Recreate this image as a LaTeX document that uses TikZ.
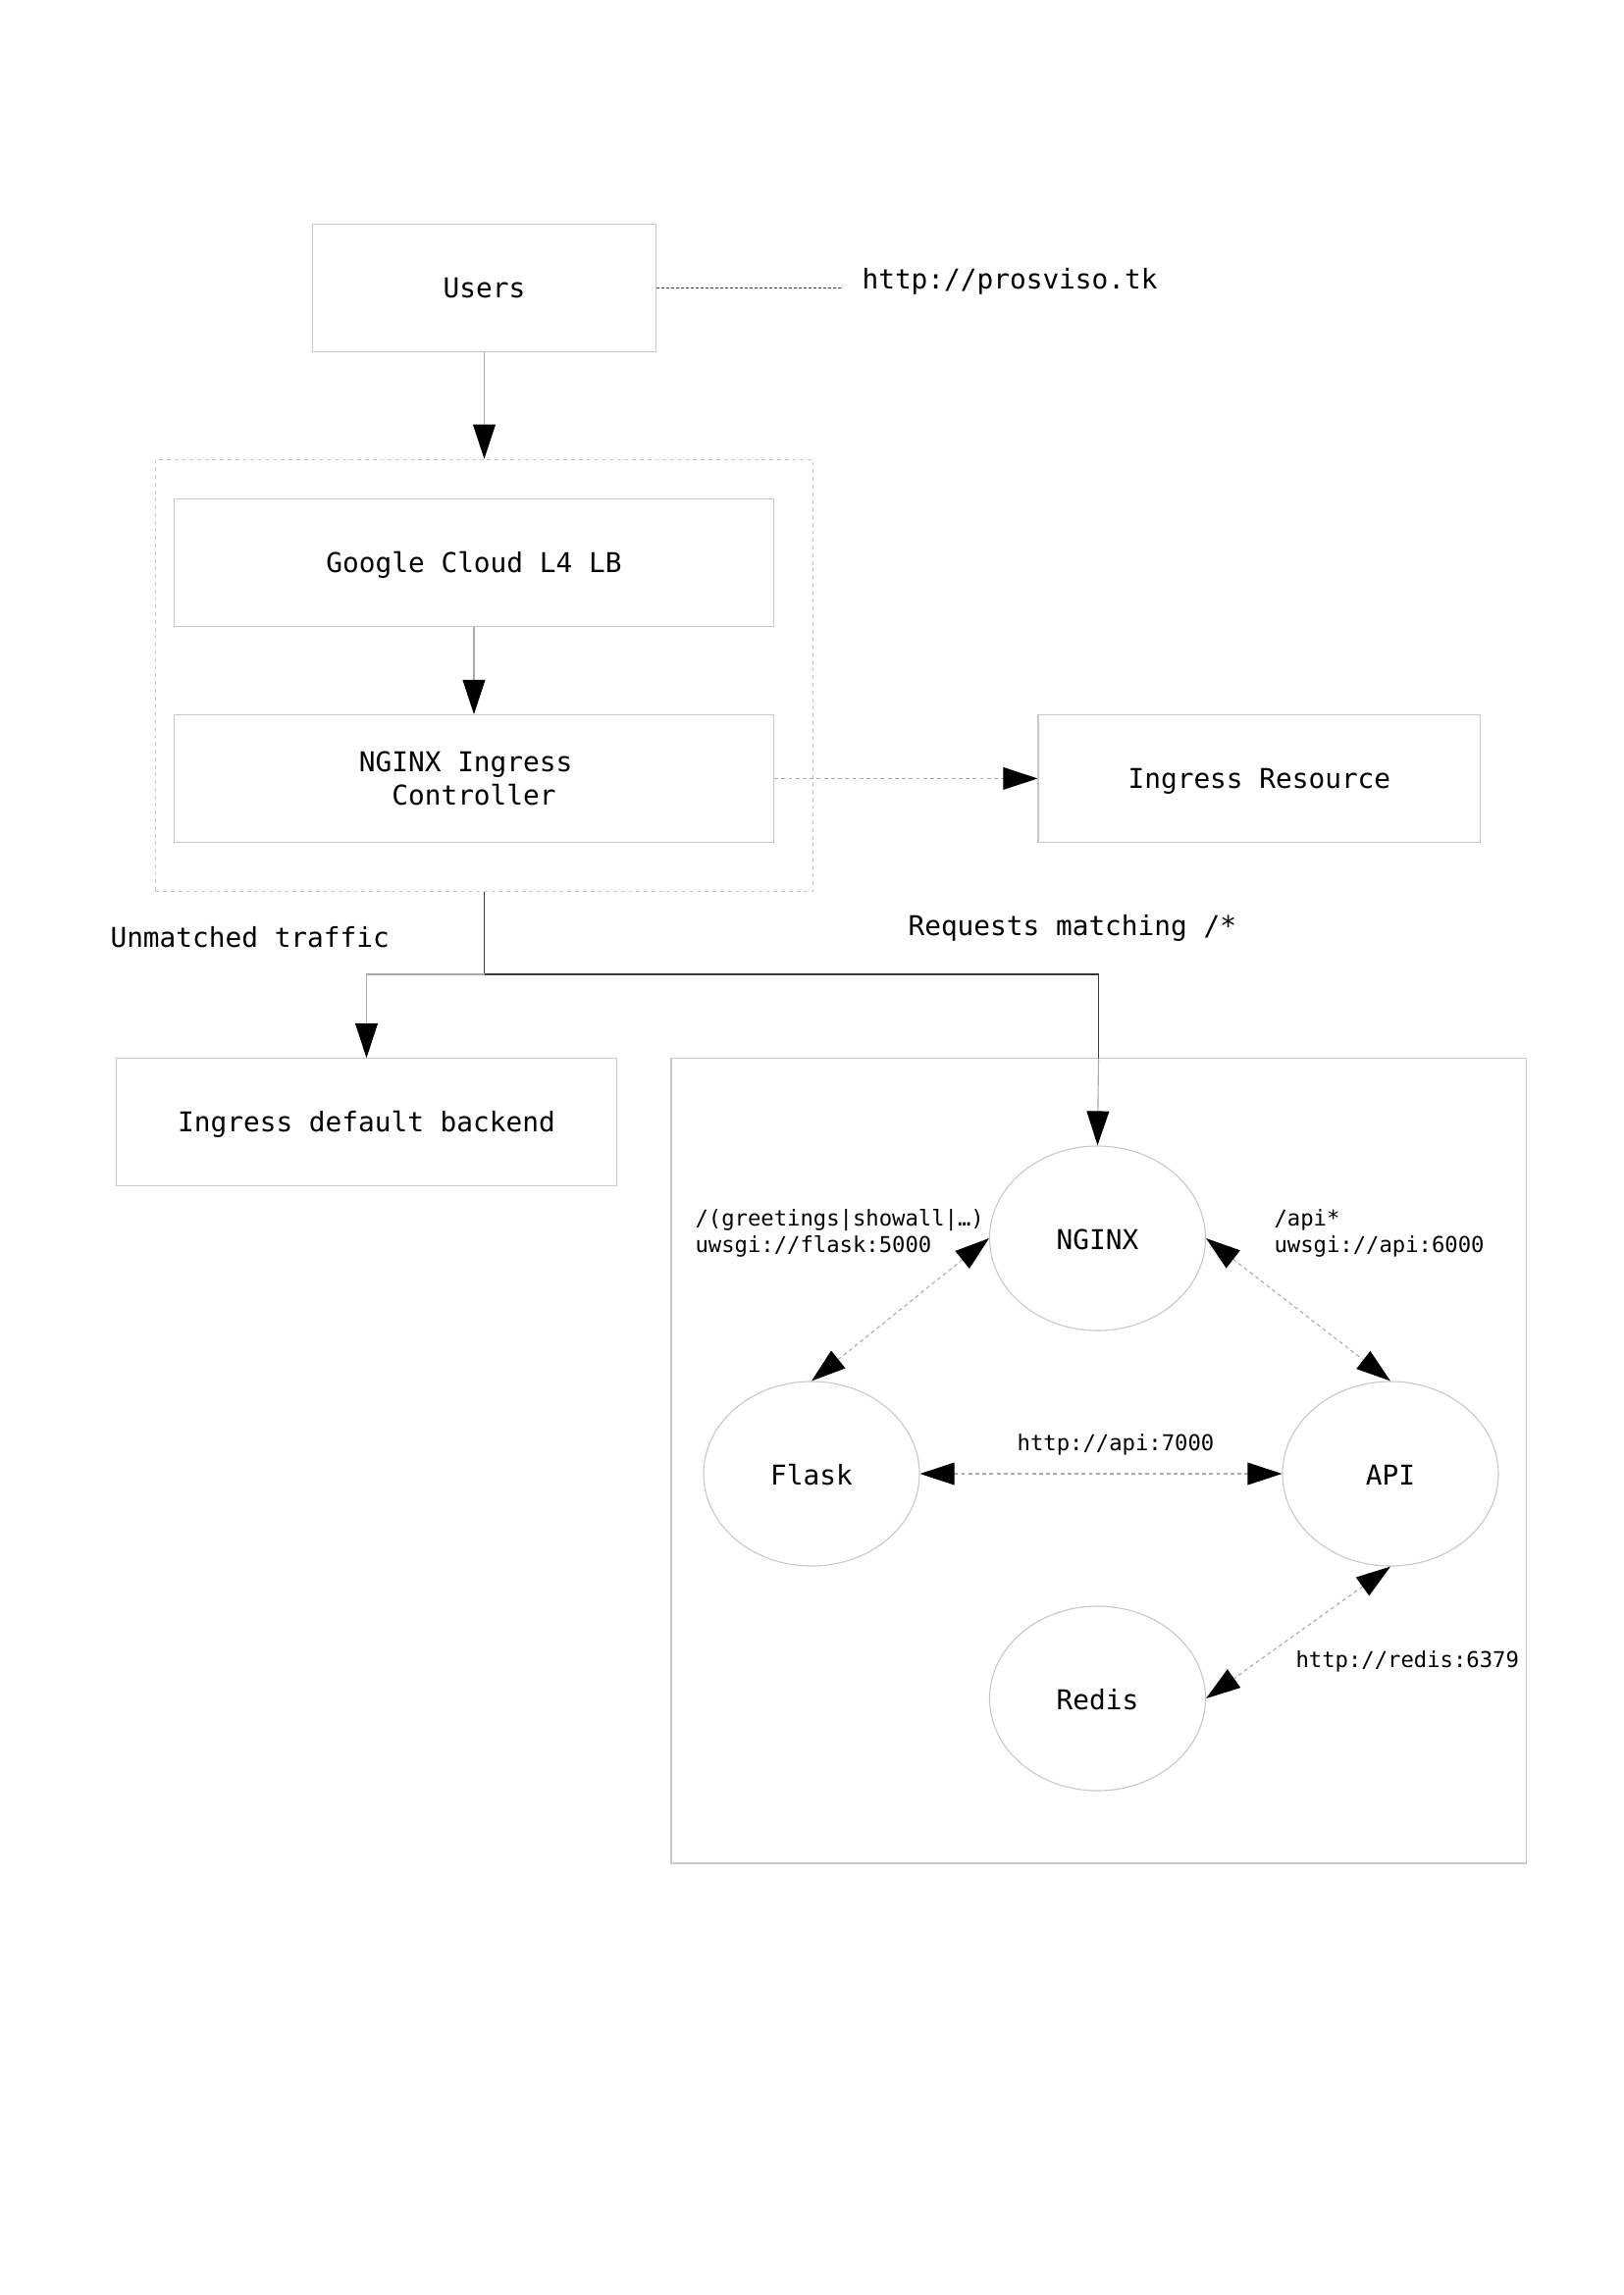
\documentclass[tikz,border=0pt]{standalone}
\usepackage{fontspec}
\setmainfont{DejaVu Sans Mono}
\setmonofont{DejaVu Sans Mono}
\usetikzlibrary{arrows.meta,shapes.geometric}
\definecolor{boxgray}{HTML}{C8C8C8}
\definecolor{edgegray}{HTML}{ABABAB}
\definecolor{darkline}{HTML}{3A3A3A}
\tikzset{
  tip/.tip={Triangle[length=12.6pt,width=8.2pt,color=black,fill=black]},
  mainfont/.style={font=\fontsize{10}{12}\selectfont},
  smallfont/.style={font=\fontsize{8}{9.7}\selectfont},
  boxbase/.style={draw=boxgray,line width=0.4pt,rectangle,inner sep=0pt,minimum height=46.7pt,mainfont,align=center},
  boxnode/.style={boxbase,text height=7.4pt,text depth=0pt},
  ellnode/.style={draw=boxgray,line width=0.4pt,ellipse,inner sep=0pt,minimum width=79.2pt,minimum height=67.7pt,mainfont,text height=8.3pt,text depth=0pt},
  solidedge/.style={draw=edgegray,line width=0.4pt},
  dashedge/.style={draw=edgegray,line width=0.4pt,dash pattern=on 1.4pt off 1.2pt},
  clusterbox/.style={draw=boxgray,line width=0.4pt,dash pattern=on 1.4pt off 1.4pt,rectangle,inner sep=0pt},
  lbl/.style={inner sep=0pt},
}
\begin{document}
\begin{tikzpicture}[x=0.36pt,y=-0.36pt]
\useasboundingbox (0,0) rectangle (1654,2339);
\fill[white] (0,0) rectangle (1654,2339);

% nodes
\node[boxnode,minimum width=126.1pt] (users) at (493.5,293.6) {Users};
\node[lbl,mainfont,anchor=west] (url) at (878,286.5) {http://prosviso.tk};
\coordinate (urlend) at (857,293.6);

\node[clusterbox,minimum width=241.3pt,minimum height=158.5pt] (cluster) at (493.5,688.4) {};
\node[boxnode,minimum width=220pt] (gclb) at (483,573.7) {Google Cloud L4 LB};
\node[boxbase,minimum width=220pt] (nic) at (483,793.4) {NGINX Ingress\hphantom{x}\\Controller};
\node[boxnode,minimum width=162.3pt] (ir) at (1283.4,793.4) {Ingress Resource};

\node[lbl,mainfont,anchor=west] (unm) at (112,955) {Unmatched traffic};
\node[lbl,mainfont,anchor=west] (req) at (925,946) {Requests matching /*};

\node[boxnode,minimum width=183.6pt,minimum height=46.8pt] (backend) at (373.5,1143.7) {Ingress default backend};
\node[draw=boxgray,line width=0.4pt,rectangle,inner sep=0pt,minimum width=313.6pt,minimum height=295.3pt] (mainbox) at (1119.5,1488.8) {};

\node[ellnode] (nginx) at (1118.5,1262) {NGINX};
\node[ellnode] (flask) at (827,1502) {Flask};
\node[ellnode] (api) at (1417,1502) {API};
\node[ellnode] (redis) at (1118.5,1731) {Redis};

\node[lbl,smallfont,anchor=west,align=left] (lflask) at (708,1256.5) {/(greetings|showall|…)\\uwsgi://flask:5000};
\node[lbl,smallfont,anchor=west,align=left] (lapi) at (1298,1256.5) {/api*\\uwsgi://api:6000};
\node[lbl,smallfont] (l7000) at (1137,1472) {http://api:7000};
\node[lbl,smallfont,anchor=west] (lredis) at (1320,1693) {http://redis:6379};

% connectors
\draw[draw=darkline,line width=0.4pt,dash pattern=on 1pt off 0.8pt] (users.east) -- (urlend);
\draw[solidedge,-tip] (users.south) -- (cluster.north);
\draw[solidedge,-tip] (gclb.south) -- (nic.north);
\draw[dashedge,-tip] (nic.east) -- (ir.west);

\coordinate (split) at (493.5,993);
\coordinate (entry) at (1119.5,1078.7);
\draw[draw=darkline,line width=0.5pt] (cluster.south) -- (split) -| (entry);
\draw[solidedge,-tip] (entry) -- (nginx.north);
\draw[solidedge,-tip] (split) -| (backend.north);

\draw[dashedge,tip-tip] (nginx.west) -- (flask.north);
\draw[dashedge,tip-tip] (nginx.east) -- (api.north);
\draw[dashedge,tip-tip] (flask.east) -- (api.west);
\draw[dashedge,tip-tip] (api.south) -- (redis.east);
\end{tikzpicture}
\end{document}
